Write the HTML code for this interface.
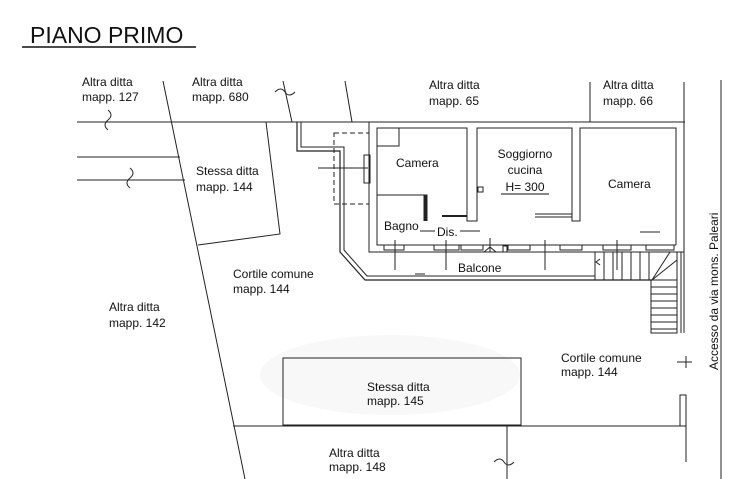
<!DOCTYPE html>
<html><head><meta charset="utf-8"><style>
html,body{margin:0;padding:0;background:#fff}
svg{display:block}
text{font-family:"Liberation Sans",Arial,sans-serif;font-size:12px;fill:#111}
</style></head><body>
<svg width="745" height="479" viewBox="0 0 745 479" xmlns="http://www.w3.org/2000/svg">
<rect width="745" height="479" fill="#fff"/>
<ellipse cx="390" cy="375" rx="130" ry="40" fill="#f8f8f8"/>
<text x="30" y="43" style="font-size:23px">PIANO PRIMO</text>
<line x1="22" y1="47" x2="196" y2="47" stroke="#111" stroke-width="1.5"/>
<g stroke="#222" stroke-width="1" fill="none">
<line x1="77" y1="122" x2="685" y2="122"/>
<line x1="77" y1="157" x2="180" y2="157"/>
<line x1="77" y1="180" x2="185" y2="180"/>
<line x1="163" y1="81" x2="245" y2="479"/>
<polyline points="266,122 280,234 198,245"/>
<line x1="283" y1="81" x2="292" y2="122"/>
<line x1="345" y1="81" x2="352" y2="122"/>
<line x1="590" y1="82" x2="590" y2="122"/>
<line x1="684" y1="82" x2="684" y2="333"/>
<line x1="681" y1="252" x2="681" y2="333"/>
<line x1="721" y1="80" x2="721" y2="479"/>
<path d="M108,110 q6,5 0,10 q-6,5 0,10"/>
<path d="M130,168 q6,5 0,10 q-6,5 0,10"/>
<path d="M275,92 q6,-6 10,0 q4,6 10,0"/>
<path d="M494,462 q6,-6 10,0 q4,6 10,0"/>
<polyline points="297,122 297,151 340,151 340,252 365,280 652,280" stroke-width="1.2"/>
<polyline points="301,122 301,147 344,147 344,250 367,276 595,276"/>
<rect x="334" y="133" width="35" height="71" stroke-dasharray="5,3"/>
<line x1="318" y1="168" x2="368" y2="168"/>
<rect x="364" y="155" width="6" height="28"/>
<rect x="369" y="122" width="315" height="130"/>
<polyline points="377,128 467,128 467,221 477,221 477,128 572,128 572,221 580,221 580,128 676,128 676,245"/>
<polyline points="377,128 377,245 676,245"/>
<polyline points="377,195 427,195 427,221"/>
<rect x="377" y="128" width="22" height="18"/>
<line x1="425" y1="195" x2="425" y2="221" stroke-width="3"/>
<line x1="442" y1="216" x2="467" y2="216" stroke-width="2"/>
<line x1="535" y1="214" x2="572" y2="214"/>
<line x1="535" y1="217" x2="572" y2="217"/>
<rect x="478" y="187" width="5" height="5"/>
<line x1="420" y1="231" x2="435" y2="231"/>
<line x1="460" y1="231" x2="480" y2="231"/>
<line x1="640" y1="232" x2="660" y2="232"/>
<path d="M384,245 v5 h20 v-5 M434,245 v5 h25 v-5 M461,245 v5 h22 v-5 M508,245 v5 h22 v-5 M560,245 v5 h22 v-5 M603,245 v5 h28 v-5 M646,245 v5 h28 v-5"/>
<line x1="395" y1="240" x2="395" y2="270"/>
<line x1="446" y1="240" x2="446" y2="270"/>
<line x1="545" y1="240" x2="545" y2="270"/>
<line x1="617" y1="240" x2="617" y2="270"/>
<line x1="490" y1="238" x2="490" y2="252"/>
<path d="M484,252 l6,-5 l6,5 z"/>
<line x1="415" y1="274" x2="425" y2="274"/>
<rect x="503" y="246" width="4" height="6"/>
<rect x="595" y="252" width="82" height="28"/>
<path d="M604,252v28M613,252v28M622,252v28M631,252v28M640,252v28M649,252v28"/>
<rect x="651" y="280" width="26" height="53"/>
<path d="M651,287h26M651,294h26M651,301h26M651,308h26M651,315h26M651,322h26M651,329h26"/>
<line x1="652" y1="280" x2="677" y2="260"/>
<line x1="652" y1="280" x2="670" y2="252"/>
<path d="M600,265 l-4,-3 l4,-3"/>
<rect x="283" y="358" width="238" height="67"/>
<line x1="233" y1="426" x2="686" y2="426"/>
<line x1="507" y1="426" x2="507" y2="479"/>
<rect x="680" y="395" width="6" height="31"/>
<line x1="686" y1="426" x2="686" y2="462"/>
<line x1="677" y1="362" x2="692" y2="362"/>
<line x1="686" y1="356" x2="686" y2="368"/>
</g>
<text x="82" y="86">Altra ditta</text><text x="82" y="101">mapp. 127</text>
<text x="192" y="86">Altra ditta</text><text x="192" y="101">mapp. 680</text>
<text x="429" y="89">Altra ditta</text><text x="429" y="105">mapp. 65</text>
<text x="603" y="89">Altra ditta</text><text x="603" y="105">mapp. 66</text>
<text x="196" y="175">Stessa ditta</text><text x="196" y="191">mapp. 144</text>
<text x="233" y="278">Cortile comune</text><text x="233" y="293">mapp. 144</text>
<text x="109" y="311">Altra ditta</text><text x="109" y="327">mapp. 142</text>
<text x="396" y="167">Camera</text>
<text x="525" y="158" text-anchor="middle">Soggiorno</text>
<text x="525" y="174" text-anchor="middle">cucina</text>
<text x="525" y="191" text-anchor="middle">H= 300</text>
<line x1="501" y1="194" x2="549" y2="194" stroke="#111"/>
<text x="608" y="188">Camera</text>
<text x="384" y="230">Bagno</text>
<text x="437" y="236">Dis.</text>
<text x="458" y="272">Balcone</text>
<text x="561" y="362">Cortile comune</text><text x="561" y="376">mapp. 144</text>
<text x="367" y="391" fill="#222">Stessa ditta</text><text x="367" y="405">mapp. 145</text>
<text x="329" y="457">Altra ditta</text><text x="329" y="471">mapp. 148</text>
<text transform="translate(718,370) rotate(-90)">Accesso da via mons. Paleari</text>
</svg>
</body></html>
